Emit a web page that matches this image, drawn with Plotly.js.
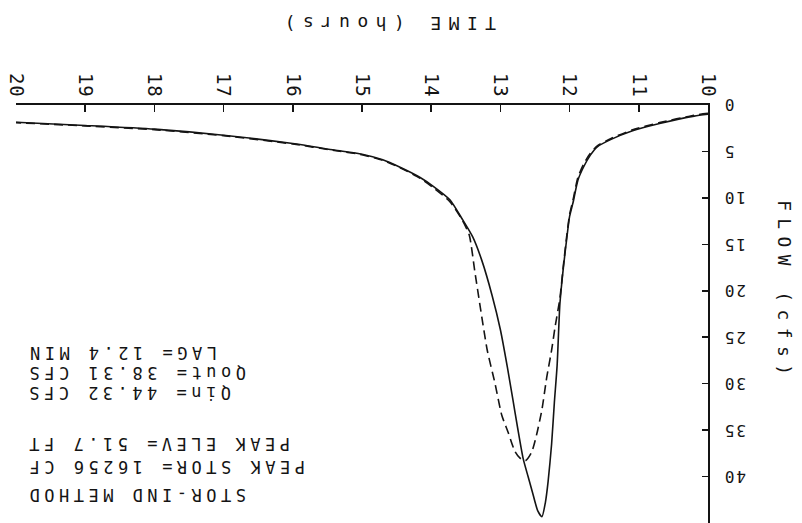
<!DOCTYPE html>
<html><head><meta charset="utf-8">
<script src="https://cdn.plot.ly/plotly-3.0.1.min.js"></script>
<style>
html,body{margin:0;padding:0;background:#fff;overflow:hidden;}
#chart{width:802px;height:523px;transform:rotate(180deg);transform-origin:50% 50%;}
#chart .xtick text{letter-spacing:1px;}
#chart .ytick text{letter-spacing:2px;}
</style></head><body><div id="chart"></div>
<script>
// Inflow hydrograph (solid)
const timeIn = [10.0, 10.2, 10.7, 11.1, 11.4, 11.6, 11.7, 11.8, 11.88, 11.95, 12.0, 12.04, 12.09, 12.14, 12.18, 12.22, 12.26, 12.31, 12.35, 12.4,
  12.46, 12.54, 12.6, 12.67, 12.75, 12.82, 12.9, 13.0, 13.12, 13.27, 13.4, 13.55, 13.73, 13.97, 14.16, 14.45, 14.7, 15.0, 15.4, 16.0, 17.0, 18.0, 19.0, 20.0];
const flowIn = [1.0, 1.2, 2.0, 2.8, 3.7, 4.5, 5.4, 6.7, 8.1, 10.5, 12.0, 14.3, 17.5, 21.4, 28.0, 32.0, 36.5, 40.5, 42.8, 44.32,
  43.7, 41.6, 40.0, 38.1, 34.8, 31.7, 28.2, 24.2, 20.5, 16.7, 14.2, 12.3, 10.2, 8.75, 7.8, 6.7, 5.9, 5.3, 4.85, 4.15, 3.25, 2.6, 2.2, 1.85];
// Outflow hydrograph (dashed)
const timeOut = [10.0, 10.2, 10.7, 11.1, 11.4, 11.6, 11.7, 11.8, 11.88, 11.95, 12.0, 12.04, 12.09, 12.14, 12.21, 12.26, 12.33, 12.4, 12.48, 12.55, 12.64,
  12.72, 12.79, 12.89, 12.98, 13.08, 13.19, 13.29, 13.37, 13.45, 13.55, 13.73, 13.97, 14.16, 14.45, 14.7, 15.0, 15.4, 16.0, 17.0, 18.0, 19.0, 20.0];
const flowOut = [0.9, 1.1, 1.9, 2.7, 3.6, 4.4, 5.2, 6.4, 7.8, 10.2, 11.8, 14.0, 17.3, 20.8, 23.9, 26.4, 29.3, 32.8, 35.6, 37.4, 38.31,
  38.0, 37.3, 35.2, 33.4, 29.9, 26.4, 21.8, 17.9, 14.0, 12.4, 10.4, 8.9, 7.9, 6.75, 5.95, 5.35, 4.9, 4.2, 3.3, 2.65, 2.25, 1.9];

const timeTicks = [10, 11, 12, 13, 14, 15, 16, 17, 18, 19, 20];
const timeTickLabels = ['10', '11', '12', '13', '14', '15', '16', '17', '18', '19', '20'];
const flowTicks = [0, 5, 10, 15, 20, 25, 30, 35, 40];
const flowTickLabels = ['0', '5', '10', '15', '20', '25', '30', '35', '40'];

const xTitle = 'TIME (hours)';
const yTitle = 'FLOW (cfs)';
const noteLines = ['STOR-IND METHOD', 'PEAK STOR= 16256 CF', 'PEAK ELEV= 51.7 FT', 'Qin= 44.32 CFS', 'Qout= 38.31 CFS', 'LAG= 12.4 MIN'];
const noteY = [0.933, 0.865, 0.812, 0.690, 0.642, 0.594];

const mono = 'DejaVu Sans Mono, Liberation Mono, monospace';
const ink = '#141414';

const traces = [
  {x: timeIn, y: flowIn, type: 'scatter', mode: 'lines', name: 'Qin',
   line: {color: ink, width: 1.6, shape: 'spline', smoothing: 0.6}},
  {x: timeOut, y: flowOut, type: 'scatter', mode: 'lines', name: 'Qout',
   line: {color: ink, width: 1.6, dash: '9px,5px', shape: 'spline', smoothing: 0.6}}
];

const annotations = noteLines.map((t, i) => ({
  xref: 'paper', yref: 'paper', x: 0.99, y: noteY[i], xanchor: 'right', yanchor: 'middle',
  showarrow: false, align: 'right',
  text: '<span style="letter-spacing:4.5px">' + t + '</span>',
  font: {family: mono, size: 17, color: ink}
}));
annotations.push({
  xref: 'paper', yref: 'paper', x: 0.464, y: -0.195, xanchor: 'center', yanchor: 'middle', showarrow: false,
  text: '<span style="letter-spacing:7.4px">' + xTitle + '</span>',
  font: {family: mono, size: 18, color: ink}
});
annotations.push({
  xref: 'paper', yref: 'paper', x: -0.11, y: 0.445, xanchor: 'center', yanchor: 'middle', showarrow: false,
  textangle: -90,
  text: '<span style="letter-spacing:7.4px">' + yTitle + '</span>',
  font: {family: mono, size: 18, color: ink}
});

const layout = {
  width: 802, height: 523,
  margin: {l: 94, r: 16, t: 0, b: 105},
  paper_bgcolor: '#fff', plot_bgcolor: '#fff',
  showlegend: false,
  xaxis: {
    range: [10, 20], showline: true, linecolor: ink, linewidth: 1.6,
    ticks: 'inside', ticklen: 7, tickwidth: 1.5, tickcolor: ink,
    tickmode: 'array', tickvals: timeTicks, ticktext: timeTickLabels, tickangle: -90,
    tickfont: {family: mono, size: 19, color: ink},
    showgrid: false, zeroline: false, ticklabelstandoff: -2
  },
  yaxis: {
    range: [0, 45], showline: true, linecolor: ink, linewidth: 1.6,
    ticks: 'inside', ticklen: 6, tickwidth: 1.5, tickcolor: ink,
    tickmode: 'array', tickvals: flowTicks, ticktext: flowTickLabels,
    tickfont: {family: mono, size: 16, color: ink},
    showgrid: false, zeroline: false, ticklabelstandoff: 10
  },
  annotations: annotations
};

Plotly.newPlot('chart', traces, layout, {staticPlot: true, displayModeBar: false});
</script></body></html>
